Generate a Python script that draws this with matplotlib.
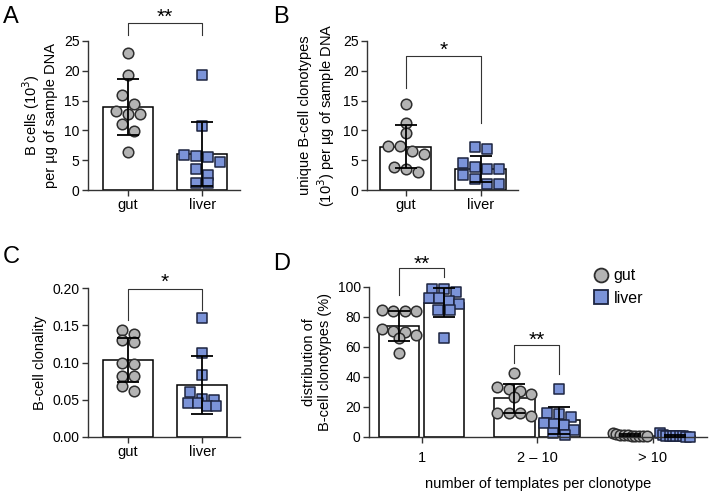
import numpy as np
import matplotlib.pyplot as plt
from matplotlib.lines import Line2D

plt.rcParams['font.family'] = ['Liberation Sans', 'DejaVu Sans']

# panel A: B cells (10^3) per ug DNA
a_gut = [23.0, 19.3, 15.9, 14.5, 13.3, 12.8, 12.8, 11.0, 9.9, 6.4]
a_liver = [19.3, 10.7, 5.9, 5.7, 5.5, 4.7, 3.5, 2.5, 1.2, 1.2]

# panel B: unique B-cell clonotypes (10^3) per ug DNA
b_gut = [14.4, 11.3, 9.5, 7.4, 7.3, 6.5, 6.1, 3.9, 3.5, 3.0]
b_liver = [7.2, 6.8, 4.5, 3.9, 3.6, 3.5, 2.5, 1.8, 1.0, 1.0]

# panel C: B-cell clonality
c_gut = [0.144, 0.138, 0.130, 0.127, 0.100, 0.098, 0.082, 0.082, 0.069, 0.062]
c_liver = [0.160, 0.113, 0.083, 0.060, 0.051, 0.050, 0.046, 0.046, 0.042, 0.042]

# panel D: distribution of clonotypes (%) by templates per clonotype
d_cats = ['1', '2 \u2013 10', '> 10']
d_gut = [
    [85, 84, 84, 84, 72, 71, 70, 68, 66, 56],
    [43, 33.5, 31.8, 31, 29, 26.5, 16.2, 16.2, 16.2, 14],
    [2.5, 2.0, 1.5, 1.2, 1.1, 1.0, 0.9, 0.8, 0.6, 0.5],
]
d_liver = [
    [99, 99, 97, 92.4, 92.4, 91, 89, 84.7, 84.7, 66],
    [31.8, 15.8, 15.3, 13.1, 9.1, 8.7, 8, 5, 2.4, 1.3],
    [2.8, 1.2, 1.0, 0.8, 0.6, 0.5, 0.5, 0.4, 0.3, 0.2],
]

GUT_FC = '#b3b3b3'
GUT_EC = '#2e2e2e'
LIV_FC = '#7b93d8'
LIV_EC = '#1c2440'


def spread(ax, xc, vals, row_h=9, step=12, maxhalf=20):
    # prism-style scatter: points close in y share a row, spaced evenly around the centre
    pts = ax.transData.transform(np.column_stack([np.full(len(vals), xc), vals]))
    ys = pts[:, 1]
    x0 = pts[0, 0]
    order = list(np.argsort(-ys))
    offs = np.zeros(len(vals))
    while order:
        first = order[0]
        row = [i for i in order if ys[first] - ys[i] < row_h]
        order = [i for i in order if i not in row]
        n = len(row)
        s = step
        if (n - 1) * s / 2 > maxhalf:
            s = 2 * maxhalf / (n - 1)
        for k, i in enumerate(row):
            offs[i] = (k - (n - 1) / 2) * s
    back = ax.transData.inverted().transform(np.column_stack([x0 + offs, ys]))
    return back[:, 0]


def bar_group(ax, xc, vals, width, fc, ec, marker, maxhalf=20):
    vals = np.array(vals)
    mean = vals.mean()
    sd = vals.std(ddof=1)
    ax.bar(xc, mean, width, color='white', edgecolor='black', linewidth=1.1, zorder=1)
    xs = spread(ax, xc, vals, maxhalf=maxhalf)
    ax.scatter(xs, vals, s=58, marker=marker, facecolor=fc, edgecolor=ec, linewidth=1.1, zorder=2, clip_on=False)
    ax.errorbar(xc, mean, yerr=sd, fmt='none', ecolor='black', elinewidth=1.3, capsize=8, capthick=1.3, zorder=3)


def style(ax):
    for s in ['top', 'right']:
        ax.spines[s].set_visible(False)
    for s in ['left', 'bottom']:
        ax.spines[s].set_linewidth(1.0)
        ax.spines[s].set_color('#333333')
    ax.tick_params(axis='both', direction='out', length=4, width=1.0, color='#333333', labelsize=10, pad=2)
    ax.tick_params(axis='x', labelsize=10.5)


def bracket(ax, x1, x2, ytop, y1, y2, text, ty):
    ax.plot([x1, x1, x2, x2], [y1, ytop, ytop, y2], color='#333333', lw=0.8, clip_on=False)
    ax.text((x1 + x2) / 2, ty, text, ha='center', va='center', fontsize=15, clip_on=False)


fig = plt.figure(figsize=(7.09, 4.92), dpi=100)

W, H = 709.0, 492.0


def add_axes(x0, x1, ytop, ybot):
    return fig.add_axes([x0 / W, 1 - ybot / H, (x1 - x0) / W, (ybot - ytop) / H])


# ---- A ----
axA = add_axes(88, 240, 41, 190)
axA.set_xlim(-0.54, 1.51)
axA.set_ylim(0, 25)
axA.set_yticks([0, 5, 10, 15, 20, 25])
bar_group(axA, 0, a_gut, 0.68, GUT_FC, GUT_EC, 'o')
bar_group(axA, 1, a_liver, 0.68, LIV_FC, LIV_EC, 's')
axA.set_xticks([0, 1])
axA.set_xticklabels(['gut', 'liver'])
axA.set_ylabel('B cells (10$^{3}$)\nper \u00b5g of sample DNA', fontsize=10.5, labelpad=4)
style(axA)
bracket(axA, 0, 1, 28.0, 26.0, 26.0, '**', 29.0)

# ---- B ----
axB = add_axes(367, 518, 41, 190)
axB.set_xlim(-0.52, 1.5)
axB.set_ylim(0, 25)
axB.set_yticks([0, 5, 10, 15, 20, 25])
bar_group(axB, 0, b_gut, 0.68, GUT_FC, GUT_EC, 'o', maxhalf=24)
bar_group(axB, 1, b_liver, 0.68, LIV_FC, LIV_EC, 's', maxhalf=24)
axB.set_xticks([0, 1])
axB.set_xticklabels(['gut', 'liver'])
axB.set_ylabel('unique B-cell clonotypes\n(10$^{3}$) per \u00b5g of sample DNA', fontsize=10.5, labelpad=4)
style(axB)
bracket(axB, 0, 1, 22.5, 17.1, 11.2, '*', 23.5)

# ---- C ----
axC = add_axes(88, 240, 288, 437)
axC.set_xlim(-0.54, 1.51)
axC.set_ylim(0, 0.20)
axC.set_yticks([0, 0.05, 0.10, 0.15, 0.20])
axC.set_yticklabels(['0.00', '0.05', '0.10', '0.15', '0.20'])
bar_group(axC, 0, c_gut, 0.68, GUT_FC, GUT_EC, 'o')
bar_group(axC, 1, c_liver, 0.68, LIV_FC, LIV_EC, 's', maxhalf=14)
axC.set_xticks([0, 1])
axC.set_xticklabels(['gut', 'liver'])
axC.set_ylabel('B-cell clonality', fontsize=10.5, labelpad=4)
style(axC)
bracket(axC, 0, 1, 0.199, 0.157, 0.170, '*', 0.208)

# ---- D ----
axD = add_axes(369, 707, 287, 437)
axD.set_xlim(-0.46, 2.47)
axD.set_ylim(0, 100)
axD.set_yticks([0, 20, 40, 60, 80, 100])
xg = np.arange(len(d_cats))
for i in range(len(d_cats)):
    bar_group(axD, xg[i] - 0.2, d_gut[i], 0.355, GUT_FC, GUT_EC, 'o', maxhalf=17)
    bar_group(axD, xg[i] + 0.19, d_liver[i], 0.355, LIV_FC, LIV_EC, 's', maxhalf=15)
axD.set_xticks(xg)
axD.set_xticklabels(d_cats)
axD.set_ylabel('distribution of\nB-cell clonotypes (%)', fontsize=10.5, labelpad=4)
style(axD)
axD.tick_params(axis='x', pad=6)
axD.set_xlabel('number of templates per clonotype', fontsize=10.5, labelpad=9)
bracket(axD, -0.2, 0.19, 112.7, 94.7, 106.7, '**', 115.3)
bracket(axD, 0.8, 1.19, 61.3, 49.3, 42.0, '**', 64.7)

handles = [
    Line2D([], [], marker='o', ls='none', ms=10, mfc=GUT_FC, mec=GUT_EC, mew=1.3, label='gut'),
    Line2D([], [], marker='s', ls='none', ms=10, mfc=LIV_FC, mec=LIV_EC, mew=1.3, label='liver'),
]
fig.legend(handles=handles, loc='upper left', bbox_to_anchor=(585 / W, 1 - 262 / H), frameon=False,
           fontsize=11.5, handletextpad=0.2, labelspacing=0.45, borderaxespad=0, handlelength=1.2)

# panel letters
for lbl, x, y in [('A', 3, 6), ('B', 273, 6), ('C', 3, 246), ('D', 273, 253)]:
    fig.text(x / W, 1 - y / H, lbl, fontsize=17, ha='left', va='top')

fig.savefig('out.png', dpi=100)
